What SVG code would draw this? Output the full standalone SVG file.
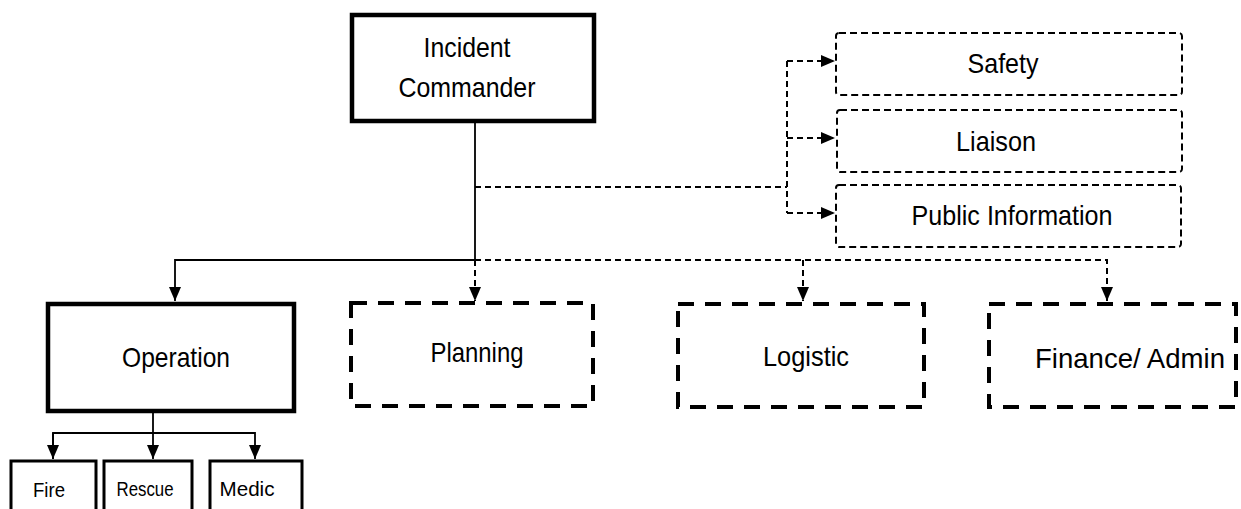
<svg xmlns="http://www.w3.org/2000/svg" width="1241" height="509" viewBox="0 0 1241 509">
<defs>
<style>
text{font-family:"Liberation Sans",Arial,sans-serif;fill:#000;text-anchor:middle}
.big{font-size:28px}
.small{font-size:21px}
.solidbox{fill:#fff;stroke:#000;stroke-width:4.5}
.subbox{fill:#fff;stroke:#000;stroke-width:3}
.staff{fill:#fff;stroke:#000;stroke-width:2;stroke-dasharray:7 4}
.section{fill:#fff;stroke:#000;stroke-width:4;stroke-dasharray:16 11}
.solid{fill:none;stroke:#000;stroke-width:1.8}
.dash{fill:none;stroke:#000;stroke-width:2;stroke-dasharray:6 4}
</style>
<marker id="arr" markerUnits="userSpaceOnUse" markerWidth="14" markerHeight="12" refX="14" refY="6" orient="auto">
<path d="M0,0 L14,6 L0,12 z" fill="#000"/>
</marker>
</defs>

<g id="connectors">
<path class="solid" d="M475,122 V260 H175 V301" marker-end="url(#arr)"/>
<path class="dash" d="M475,260 V301" marker-end="url(#arr)"/>
<path class="dash" d="M475,260 H1107 V301" marker-end="url(#arr)"/>
<path class="dash" d="M803,260 V301" marker-end="url(#arr)"/>
<path class="dash" d="M475,187 H787"/>
<path class="dash" d="M787,61 V213"/>
<path class="dash" d="M787,61 H835" marker-end="url(#arr)"/>
<path class="dash" d="M787,138 H835" marker-end="url(#arr)"/>
<path class="dash" d="M787,213 H835" marker-end="url(#arr)"/>
<path class="solid" d="M153,412 V433"/>
<path class="solid" d="M53,459 V433 H255 V459" marker-end="url(#arr)"/>
<path class="solid" d="M53,433 V459" marker-end="url(#arr)"/>
<path class="solid" d="M153,433 V459" marker-end="url(#arr)"/>
</g>

<g id="incident-commander">
<rect class="solidbox" x="352" y="15" width="242" height="106"/>
<text class="big" x="467" y="57" textLength="87" lengthAdjust="spacingAndGlyphs">Incident</text>
<text class="big" x="467" y="97" textLength="137" lengthAdjust="spacingAndGlyphs">Commander</text>
</g>

<g id="safety">
<rect class="staff" x="836" y="33" width="346" height="62" rx="3"/>
<text class="big" x="1003" y="73" textLength="71" lengthAdjust="spacingAndGlyphs">Safety</text>
</g>

<g id="liaison">
<rect class="staff" x="837" y="110" width="345" height="62" rx="3"/>
<text class="big" x="996" y="151" textLength="80" lengthAdjust="spacingAndGlyphs">Liaison</text>
</g>

<g id="public-information">
<rect class="staff" x="836" y="185" width="345" height="62" rx="3"/>
<text class="big" x="1012" y="225" textLength="201" lengthAdjust="spacingAndGlyphs">Public Information</text>
</g>

<g id="operation">
<rect class="solidbox" x="48" y="304" width="246" height="107"/>
<text class="big" x="176" y="367" textLength="108" lengthAdjust="spacingAndGlyphs">Operation</text>
</g>

<g id="planning">
<rect class="section" x="351" y="303" width="242" height="103"/>
<text class="big" x="477" y="362" textLength="93" lengthAdjust="spacingAndGlyphs">Planning</text>
</g>

<g id="logistic">
<rect class="section" x="678" y="304" width="246" height="103"/>
<text class="big" x="806" y="366" textLength="86" lengthAdjust="spacingAndGlyphs">Logistic</text>
</g>

<g id="finance-admin">
<rect class="section" x="989" y="304" width="247" height="103"/>
<text class="big" x="1130" y="368" textLength="190" lengthAdjust="spacingAndGlyphs">Finance/ Admin</text>
</g>

<g id="fire">
<rect class="subbox" x="11" y="461" width="85" height="70"/>
<text class="small" x="49" y="497" textLength="32" lengthAdjust="spacingAndGlyphs">Fire</text>
</g>

<g id="rescue">
<rect class="subbox" x="104" y="461" width="88" height="70"/>
<text class="small" x="145" y="496" textLength="57" lengthAdjust="spacingAndGlyphs">Rescue</text>
</g>

<g id="medic">
<rect class="subbox" x="210" y="461" width="92" height="70"/>
<text class="small" x="247" y="496" textLength="55" lengthAdjust="spacingAndGlyphs">Medic</text>
</g>
</svg>
